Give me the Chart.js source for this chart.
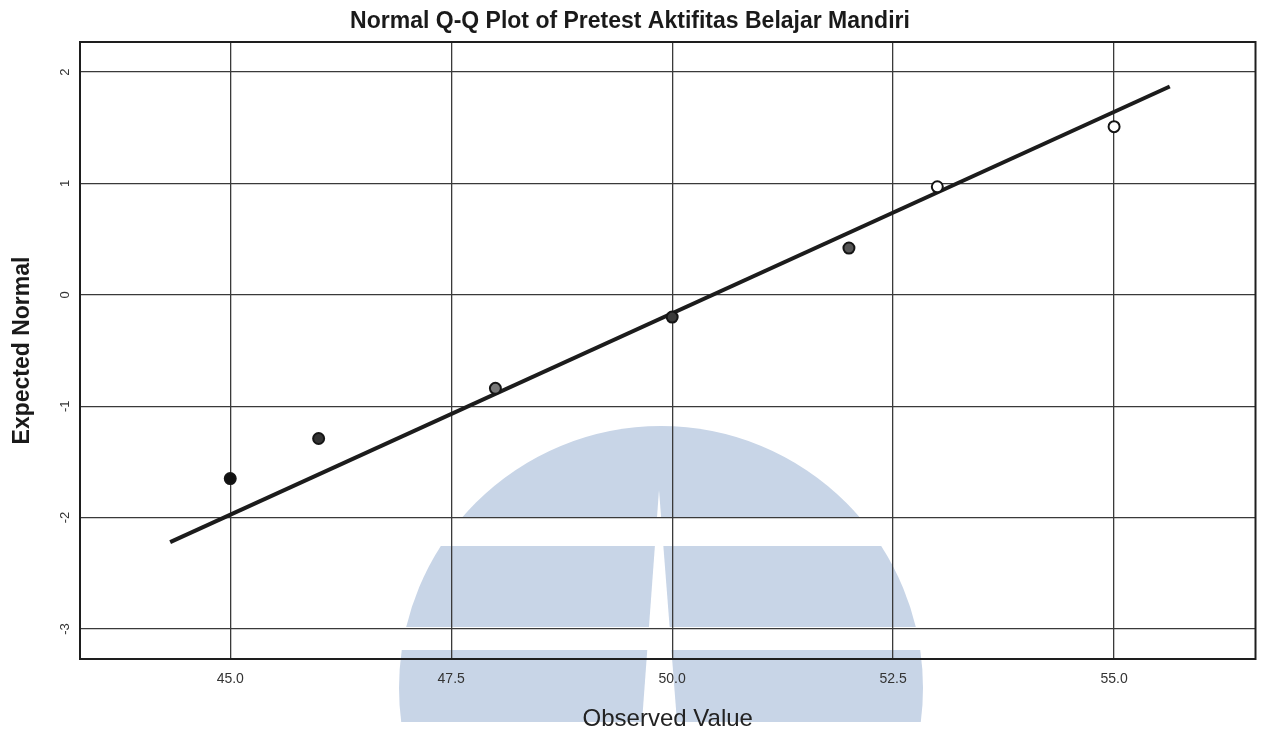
<!DOCTYPE html>
<html>
<head>
<meta charset="utf-8">
<title>Normal Q-Q Plot</title>
<script src="https://cdn.jsdelivr.net/npm/chart.js@4/dist/chart.umd.min.js"></script>
<style>
  html, body { margin: 0; padding: 0; background: #fff; }
  #wrap { width: 1263px; height: 735px; }
</style>
</head>
<body>
<div id="wrap"><canvas id="myChart" width="1263" height="735"></canvas></div>
<script>
// observed scores and their expected normal quantiles
const observed = [45, 46, 48, 50, 52, 53, 55]
const expectedNormal = [-1.65, -1.29, -0.84, -0.20, 0.42, 0.97, 1.51]

// reference line end points
const lineX = [44.32, 55.63]
const lineY = [-2.22, 1.87]

// axis ticks
const xTicks = [45.0, 47.5, 50.0, 52.5, 55.0]
const yTicks = [-3, -2, -1, 0, 1, 2]

const markerFill = ['#111', '#333', '#777', '#3a3a3a', '#555', '#fff', '#fff']

const FONT = '"Liberation Sans", Arial, sans-serif'

// light blue logo printed behind the plot
const logoPlugin = {
  id: 'logo',
  beforeDraw(chart) {
    const ctx = chart.ctx
    ctx.save()
    ctx.fillStyle = '#c8d5e7'
    const bands = [[426, 518], [546, 627], [650, 722]]
    bands.forEach(b => {
      ctx.save()
      ctx.beginPath()
      ctx.rect(0, b[0], 1263, b[1] - b[0])
      ctx.clip()
      ctx.beginPath()
      ctx.arc(661, 688, 262, 0, Math.PI * 2)
      ctx.fill()
      ctx.restore()
    })
    ctx.fillStyle = '#fff'
    ctx.beginPath()
    ctx.moveTo(659, 490)
    ctx.lineTo(677, 722)
    ctx.lineTo(642, 722)
    ctx.closePath()
    ctx.fill()
    ctx.restore()
  }
}

// box round the plot area
const framePlugin = {
  id: 'frame',
  afterDraw(chart) {
    const a = chart.chartArea
    const ctx = chart.ctx
    ctx.save()
    ctx.strokeStyle = '#1e1e1e'
    ctx.lineWidth = 2
    ctx.strokeRect(a.left, a.top, a.right - a.left, a.bottom - a.top)
    ctx.restore()
  }
}

const points = observed.map((v, i) => ({ x: v, y: expectedNormal[i] }))
const refLine = lineX.map((v, i) => ({ x: v, y: lineY[i] }))

var ctx = document.getElementById('myChart').getContext('2d');
var myChart = new Chart(ctx, {
  type: 'scatter',
  data: {
    datasets: [{
      data: points,
      pointRadius: 5.5,
      pointBorderWidth: 2,
      pointBorderColor: '#151515',
      pointBackgroundColor: markerFill,
      showLine: false,
      order: 1
    }, {
      data: refLine,
      showLine: true,
      borderColor: '#1c1c1c',
      borderWidth: 4,
      pointRadius: 0,
      order: 2
    }]
  },
  options: {
    responsive: false,
    animation: false,
    layout: { padding: { left: 0, right: 3, top: 0, bottom: 0 } },
    plugins: {
      legend: { display: false },
      tooltip: { enabled: false },
      title: {
        display: true,
        text: 'Normal Q-Q Plot of Pretest Aktifitas Belajar Mandiri',
        color: '#1a1a1a',
        font: { family: FONT, size: 23, weight: 'bold' },
        padding: { top: 8, bottom: 6.4 }
      }
    },
    scales: {
      x: {
        type: 'linear',
        min: 43.3,
        max: 56.6,
        afterBuildTicks: s => { s.ticks = xTicks.map(v => ({ value: v })) },
        afterFit: s => { s.height = 76 },
        grid: { color: '#3a3a3a', lineWidth: 1.3, drawTicks: false },
        border: { display: false },
        ticks: {
          padding: 12,
          color: '#333',
          font: { family: FONT, size: 14 },
          callback: v => Number(v).toFixed(1)
        },
        title: {
          display: true,
          text: 'Observed Value',
          color: '#222',
          font: { family: FONT, size: 24 },
          padding: { top: 0, bottom: 1 }
        }
      },
      y: {
        type: 'linear',
        min: -3.27,
        max: 2.27,
        afterBuildTicks: s => { s.ticks = yTicks.map(v => ({ value: v })) },
        afterFit: s => { s.width = 80 },
        grid: { color: '#3a3a3a', lineWidth: 1.3, drawTicks: false },
        border: { display: false },
        ticks: {
          padding: 9,
          color: '#333',
          minRotation: 90,
          maxRotation: 90,
          crossAlign: 'center',
          font: { family: FONT, size: 13 },
          callback: v => String(v)
        },
        title: {
          display: true,
          text: 'Expected Normal',
          color: '#1a1a1a',
          font: { family: FONT, size: 23, weight: 'bold' },
          padding: { top: 9, bottom: 0 }
        }
      }
    }
  },
  plugins: [logoPlugin, framePlugin]
});
</script>
</body>
</html>
